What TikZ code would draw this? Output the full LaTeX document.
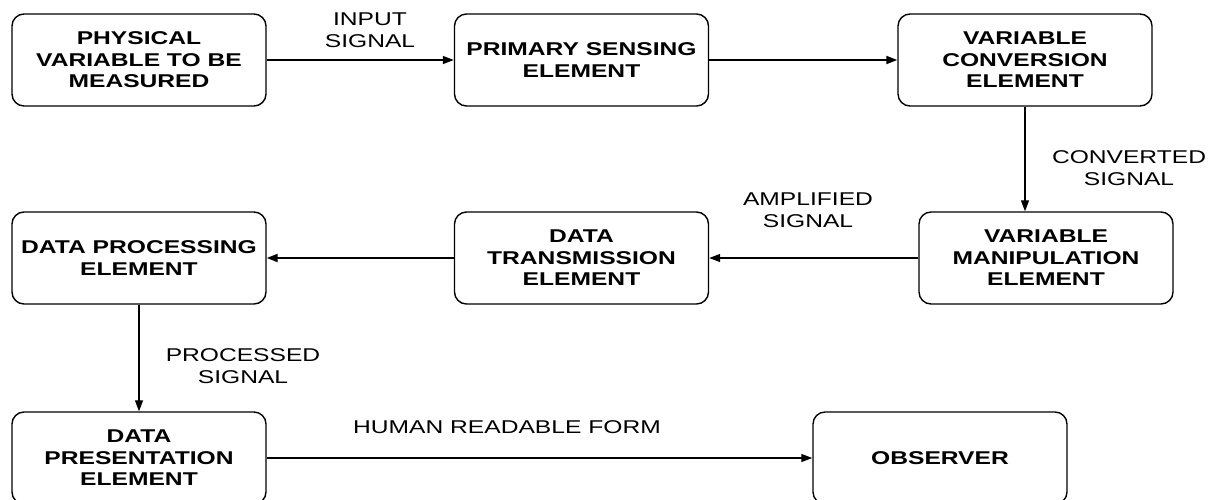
\documentclass[tikz,border=0pt]{standalone}
\usepackage{fontspec}
\setmainfont[FakeStretch=1.33]{Liberation Sans}
\usetikzlibrary{arrows.meta}
\tikzset{
  blockbox/.style={draw=black, line width=1.4pt, rounded corners=12pt, minimum width=254pt, minimum height=92pt, inner sep=0pt, align=center, font=\fontsize{18.5}{21.5}\selectfont\bfseries},
  lbl/.style={align=center, inner sep=0pt, font=\fontsize{18.5}{21.5}\selectfont},
  conn/.style={line width=1.3pt, -{Triangle[length=11pt,width=8pt]}},
  thickconn/.style={line width=2pt, -{Triangle[length=11pt,width=8pt]}}
}
\begin{document}
\begin{tikzpicture}[x=1pt,y=-1pt]
\useasboundingbox (0,0) rectangle (1217,499);
\node[blockbox] (phys) at (139,60) {PHYSICAL\\VARIABLE TO BE\\MEASURED};
\node[blockbox] (pse) at (581.5,60) {PRIMARY SENSING\\ELEMENT};
\node[blockbox] (vce) at (1025,60) {VARIABLE\\CONVERSION\\ELEMENT};
\node[blockbox] (vme) at (1046,258) {VARIABLE\\MANIPULATION\\ELEMENT};
\node[blockbox] (dte) at (581.5,258) {DATA\\TRANSMISSION\\ELEMENT};
\node[blockbox] (dpe) at (139,258) {DATA PROCESSING\\ELEMENT};
\node[blockbox] (dpr) at (139,458) {DATA\\PRESENTATION\\ELEMENT};
\node[blockbox] (obs) at (940,458) {OBSERVER};

\draw[conn] (phys) -- (pse);
\draw[thickconn] (pse) -- (vce);
\draw[conn] (vce.south) -- (vce.south |- vme.north);
\draw[conn] (vme) -- (dte);
\draw[thickconn] (dte) -- (dpe);
\draw[conn] (dpe) -- (dpr);
\draw[conn] (dpr) -- (obs);

\node[lbl] (l1) at (370,30) {INPUT\\SIGNAL};
\node[lbl] (l2) at (1129,168) {CONVERTED\\SIGNAL};
\node[lbl] (l3) at (808,210) {AMPLIFIED\\SIGNAL};
\node[lbl] (l4) at (243,366) {PROCESSED\\SIGNAL};
\node[lbl] (l5) at (507,427) {HUMAN READABLE FORM};
\end{tikzpicture}
\end{document}
